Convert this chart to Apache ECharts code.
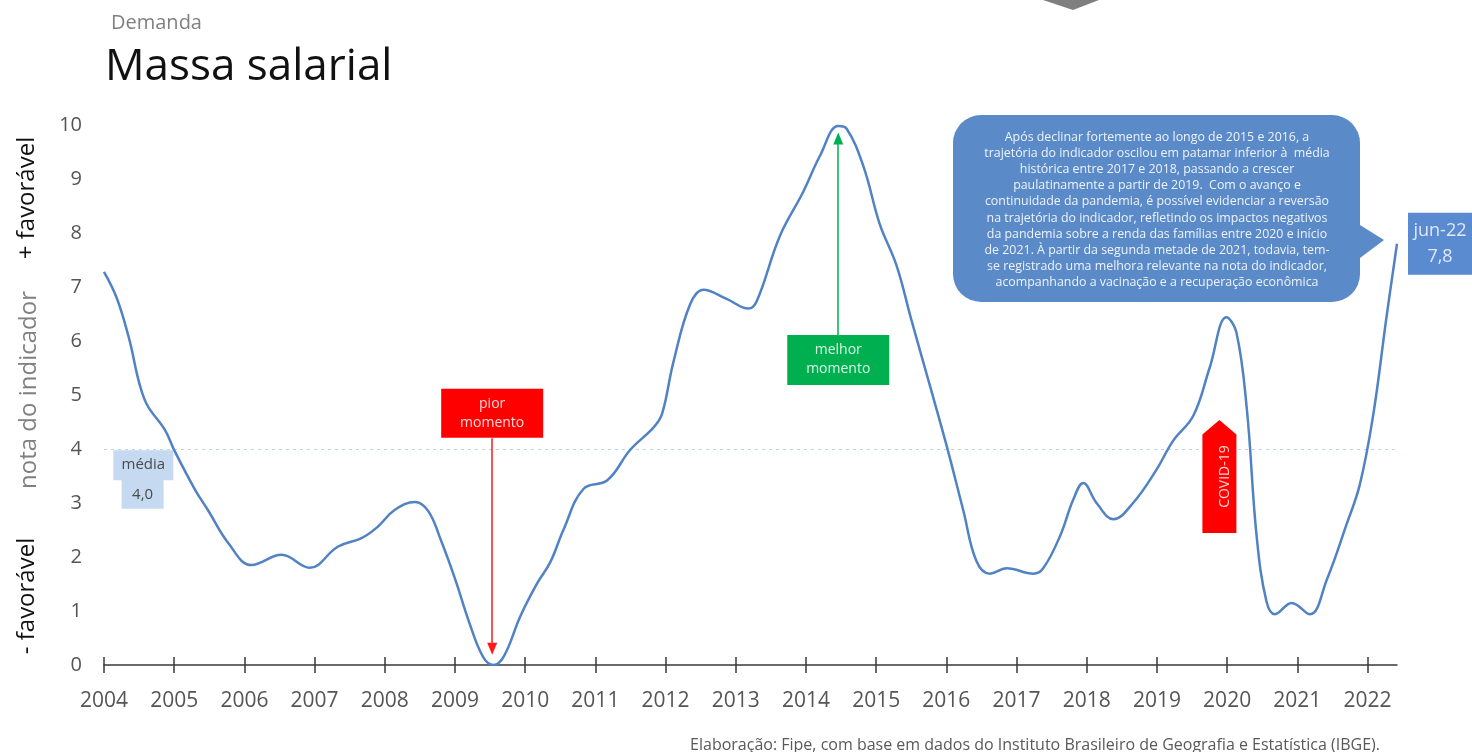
<!DOCTYPE html>
<html lang="pt-BR">
<head>
<meta charset="utf-8">
<title>Massa salarial</title>
<script src="https://cdn.jsdelivr.net/npm/echarts@6/dist/echarts.min.js"></script>
<style>
  html, body { margin: 0; padding: 0; background: #ffffff; }
  #chart { width: 1472px; height: 752px; }
</style>
</head>
<body>
<div id="chart"></div>
<script>
// Nota do indicador de massa salarial (0 a 10), em fração de ano
const anos = [
  2004.00, 2004.18, 2004.35, 2004.58, 2004.87, 2005.00, 2005.30, 2005.48, 2005.77, 2006.10,
  2006.53, 2006.93, 2007.33, 2007.67, 2007.90, 2008.14, 2008.43, 2008.62, 2008.80, 2009.00,
  2009.20, 2009.40, 2009.55, 2009.70, 2009.93, 2010.17, 2010.36, 2010.55, 2010.83, 2011.17,
  2011.50, 2011.83, 2011.95, 2012.11, 2012.35, 2012.54, 2012.87, 2013.18, 2013.30, 2013.63,
  2013.96, 2014.20, 2014.46, 2014.58, 2014.82, 2015.05, 2015.29, 2015.50, 2015.76, 2016.00,
  2016.24, 2016.43, 2016.62, 2016.86, 2017.24, 2017.38, 2017.62, 2017.81, 2017.95, 2018.14,
  2018.38, 2018.66, 2018.99, 2019.23, 2019.52, 2019.75, 2019.99, 2020.13, 2020.28, 2020.42,
  2020.56, 2020.68, 2020.92, 2021.18, 2021.42, 2021.70, 2021.89, 2022.08, 2022.27, 2022.42
];
const nota = [
  7.28, 6.80, 6.08, 4.91, 4.35, 3.98, 3.24, 2.87, 2.26, 1.85,
  2.04, 1.80, 2.19, 2.35, 2.56, 2.87, 3.02, 2.85, 2.31, 1.60,
  0.80, 0.15, 0.00, 0.17, 0.90, 1.51, 1.91, 2.52, 3.26, 3.42,
  3.99, 4.40, 4.65, 5.60, 6.68, 6.95, 6.78, 6.60, 6.74, 7.95,
  8.76, 9.43, 9.98, 9.93, 9.23, 8.17, 7.40, 6.40, 5.20, 4.08,
  2.87, 1.92, 1.69, 1.79, 1.69, 1.79, 2.39, 3.07, 3.37, 3.00,
  2.70, 3.00, 3.61, 4.15, 4.62, 5.50, 6.44, 6.17, 4.75, 2.39,
  1.18, 0.94, 1.15, 0.94, 1.58, 2.60, 3.34, 4.62, 6.44, 7.80
];
const anosEixo = [2004, 2005, 2006, 2007, 2008, 2009, 2010, 2011, 2012, 2013,
                  2014, 2015, 2016, 2017, 2018, 2019, 2020, 2021, 2022];
const media = 4.0;
const ultimoPeriodo = 'jun-22';

const fmtBR = v => v.toFixed(1).replace('.', ',');
const FONT = '"Open Sans", "Noto Sans", sans-serif';

const textoNota =
  'Após declinar fortemente ao longo de 2015 e 2016, a\n' +
  'trajetória do indicador oscilou em patamar inferior à  média\n' +
  'histórica entre 2017 e 2018, passando a crescer\n' +
  'paulatinamente a partir de 2019.  Com o avanço e\n' +
  'continuidade da pandemia, é possível evidenciar a reversão\n' +
  'na trajetória do indicador, refletindo os impactos negativos\n' +
  'da pandemia sobre a renda das famílias entre 2020 e início\n' +
  'de 2021. À partir da segunda metade de 2021, todavia, tem-\n' +
  'se registrado uma melhora relevante na nota do indicador,\n' +
  'acompanhando a vacinação e a recuperação econômica';

const serie = anos.map((a, i) => [a, nota[i]]);
const xMin = anosEixo[0];
const xMax = anos[anos.length - 1];

const chart = echarts.init(document.getElementById('chart'), null, { renderer: 'canvas' });

const eixoX = (extra) => Object.assign({
  type: 'value',
  min: xMin,
  max: xMax,
  interval: 1,
  splitLine: { show: false }
}, extra);

chart.setOption({
  animation: false,
  backgroundColor: '#ffffff',
  textStyle: { fontFamily: FONT },
  title: [
    { text: 'Demanda', left: 106, top: 8,
      textStyle: { fontSize: 20, fontWeight: 'normal', color: '#808080', fontFamily: FONT } },
    { text: 'Massa salarial', left: 100, top: 40,
      textStyle: { fontSize: 44, fontWeight: 'normal', color: '#111111', fontFamily: FONT } }
  ],
  grid: { left: 104, right: 75, top: 125, bottom: 87, containLabel: false },
  xAxis: [
    eixoX({
      axisLine: { show: true, lineStyle: { color: '#3a3a3a', width: 1.5 } },
      axisTick: { show: true, length: 8, lineStyle: { color: '#3a3a3a', width: 1.5 }, customValues: anosEixo },
      axisLabel: { show: true, margin: 26, fontSize: 21, color: '#555555', fontFamily: FONT,
                   customValues: anosEixo, formatter: v => String(v) }
    }),
    eixoX({
      position: 'bottom',
      axisLine: { show: false },
      axisTick: { show: true, inside: true, length: 8, lineStyle: { color: '#3a3a3a', width: 1.5 }, customValues: anosEixo },
      axisLabel: { show: false }
    })
  ],
  yAxis: {
    type: 'value',
    min: 0,
    max: 10,
    interval: 1,
    axisLine: { show: false },
    axisTick: { show: false },
    splitLine: { show: false },
    axisLabel: { margin: 22, fontSize: 20, color: '#555555', fontFamily: FONT }
  },
  series: [
    {
      name: 'Massa salarial',
      type: 'line',
      data: serie,
      smooth: 0.4,
      showSymbol: false,
      symbol: 'none',
      z: 5,
      lineStyle: { color: '#5082c4', width: 2.5 },
      endLabel: {
        show: true,
        distance: 11,
        formatter: p => '{t|' + ultimoPeriodo + '}\n{t|' + fmtBR(p.value[1]) + '}',
        backgroundColor: '#5a8ad0',
        padding: [5, 3, 5, 3],
        align: 'left',
        rich: {
          t: { width: 58, align: 'center', color: '#dfe9f7', fontSize: 18, lineHeight: 26, fontFamily: FONT }
        }
      }
    },
    {
      // linha da média histórica e rótulo
      name: 'média',
      type: 'line',
      data: [],
      z: 2,
      markLine: {
        silent: true,
        symbol: ['none', 'none'],
        label: { show: false },
        lineStyle: { type: [3, 4], color: '#c3d3e6', width: 1.2 },
        data: [{ yAxis: media }]
      },
      markPoint: {
        silent: true,
        data: [
          { coord: [2004.56, 3.70], symbol: 'rect', symbolSize: [60, 30],
            itemStyle: { color: '#c5d9f1' },
            label: { show: true, position: 'inside', formatter: 'média', color: '#4a4a4a', fontSize: 15 } },
          { coord: [2004.55, 3.16], symbol: 'rect', symbolSize: [42, 29],
            itemStyle: { color: '#c5d9f1' },
            label: { show: true, position: 'inside', formatter: fmtBR(media), color: '#4a4a4a', fontSize: 15 } }
        ]
      }
    },
    {
      // pior momento
      name: 'pior momento',
      type: 'line',
      data: [],
      z: 6,
      markLine: {
        silent: true,
        symbol: ['none', 'triangle'],
        symbolSize: [10, 12],
        label: { show: false },
        lineStyle: { type: 'solid', color: '#ff1a1a', width: 1.5 },
        data: [[{ coord: [2009.53, 4.2] }, { coord: [2009.53, 0.3] }]]
      },
      markPoint: {
        silent: true,
        data: [
          { coord: [2009.53, 4.66], symbol: 'rect', symbolSize: [102, 49],
            itemStyle: { color: '#ff0000' },
            label: { show: true, position: 'inside', formatter: 'pior\nmomento', color: '#ffd9d9',
                     fontSize: 14, lineHeight: 19 } }
        ]
      }
    },
    {
      // melhor momento
      name: 'melhor momento',
      type: 'line',
      data: [],
      z: 6,
      markLine: {
        silent: true,
        symbol: ['none', 'triangle'],
        symbolSize: [10, 12],
        label: { show: false },
        lineStyle: { type: 'solid', color: '#00b050', width: 1.5 },
        data: [[{ coord: [2014.46, 6.1] }, { coord: [2014.46, 9.75] }]]
      },
      markPoint: {
        silent: true,
        data: [
          { coord: [2014.46, 5.65], symbol: 'rect', symbolSize: [102, 50],
            itemStyle: { color: '#00b050' },
            label: { show: true, position: 'inside', formatter: 'melhor\nmomento', color: '#d8f5e3',
                     fontSize: 14, lineHeight: 19 } }
        ]
      }
    },
    {
      // início da pandemia
      name: 'COVID-19',
      type: 'line',
      data: [],
      z: 6,
      markPoint: {
        silent: true,
        data: [
          { coord: [2019.89, 3.49], symbol: 'path://M0,9 L10,0 L20,9 L20,70 L0,70 Z',
            symbolSize: [34, 113], symbolKeepAspect: false,
            itemStyle: { color: '#ff0000' },
            label: { show: true, position: 'inside', rotate: 90, offset: [0, 6],
                     formatter: 'COVID-19', color: '#ffd0d0', fontSize: 14 } }
        ]
      }
    }
  ],
  graphic: [
    // seta cinza decorativa no topo
    { type: 'polygon', shape: { points: [[1043, 0], [1099, 0], [1073, 10]] },
      style: { fill: '#7f7f7f' } },
    // títulos do eixo vertical
    { type: 'text', x: 27, y: 198, rotation: Math.PI / 2,
      style: { text: '+ favorável', fill: '#111111', font: '500 24px ' + FONT,
               textAlign: 'center', textVerticalAlign: 'middle' } },
    { type: 'text', x: 29, y: 390, rotation: Math.PI / 2,
      style: { text: 'nota do indicador', fill: '#808080', font: '24px ' + FONT,
               textAlign: 'center', textVerticalAlign: 'middle' } },
    { type: 'text', x: 27, y: 596, rotation: Math.PI / 2,
      style: { text: '- favorável', fill: '#111111', font: '500 24px ' + FONT,
               textAlign: 'center', textVerticalAlign: 'middle' } },
    // balão explicativo
    { type: 'group', z: 10, children: [
      { type: 'rect', shape: { x: 953, y: 115, width: 407, height: 187, r: 28 },
        style: { fill: '#5a8ac8' } },
      { type: 'polygon', shape: { points: [[1352, 220], [1384, 240], [1352, 264]] },
        style: { fill: '#5a8ac8' } },
      { type: 'text', x: 1157, y: 210,
        style: { text: textoNota, fill: '#eef3fa', font: '12.4px ' + FONT, lineHeight: 16.2,
                 textAlign: 'center', textVerticalAlign: 'middle' } }
    ] },
    // fonte
    { type: 'text', x: 1380, y: 745,
      style: { text: 'Elaboração: Fipe, com base em dados do Instituto Brasileiro de Geografia e Estatística (IBGE).',
               fill: '#595959', font: '16px ' + FONT, textAlign: 'right', textVerticalAlign: 'middle' } }
  ]
});
</script>
</body>
</html>
